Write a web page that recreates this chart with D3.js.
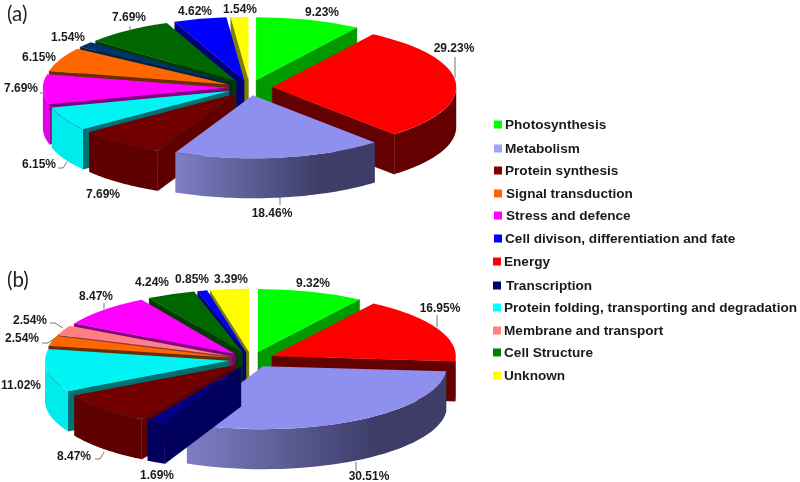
<!DOCTYPE html>
<html><head><meta charset="utf-8">
<script src="https://cdn.jsdelivr.net/npm/d3@7"></script>
<style>html,body{margin:0;padding:0;background:#fff}svg{display:block;filter:blur(0.4px)}</style>
</head><body><svg id="c" width="800" height="482"></svg>
<script>
// ---- data ----
const legendNames = ["Photosynthesis","Metabolism","Protein synthesis","Signal transduction","Stress and defence","Cell divison, differentiation and fate","Energy","Transcription","Protein folding, transporting and degradation","Membrane and transport","Cell Structure","Unknown"];
const categoriesA = ["Photosynthesis","Energy","Metabolism","Protein synthesis","Protein folding, transporting and degradation","Stress and defence","Signal transduction","Transcription","Cell Structure","Cell divison, differentiation and fate","Unknown"];
const valuesA = [9.23,29.23,18.46,7.69,6.15,7.69,6.15,1.54,7.69,4.62,1.54];
const categoriesB = ["Photosynthesis","Energy","Metabolism","Transcription","Protein synthesis","Protein folding, transporting and degradation","Signal transduction","Membrane and transport","Stress and defence","Cell Structure","Cell divison, differentiation and fate","Unknown"];
const valuesB = [9.32,16.95,30.51,1.69,8.47,11.02,2.54,2.54,8.47,4.24,0.85,3.39];

// ---- styling / layout ----
const topColor = {"Photosynthesis":"#00ff00","Metabolism":"#8f8ff0","Protein synthesis":"#720000","Signal transduction":"#ff6600","Stress and defence":"#ff00ff","Cell divison, differentiation and fate":"#0000ff","Energy":"#ff0000","Transcription":"#000080","Protein folding, transporting and degradation":"#00f4f4","Membrane and transport":"#ff8080","Cell Structure":"#006600","Unknown":"#ffff00"};
const wallColor = {"Photosynthesis":"#009900","Metabolism":"url(#lav)","Protein synthesis":"#5e0000","Signal transduction":"#b84a00","Stress and defence":"#e600e6","Cell divison, differentiation and fate":"#000080","Energy":"#640000","Transcription":"#00005c","Protein folding, transporting and degradation":"#00ecec","Membrane and transport":"#b05858","Cell Structure":"#004d00","Unknown":"#808000"};
const faceColor = {"Photosynthesis":"#009900","Metabolism":"#3d3d68","Protein synthesis":"#5e0000","Signal transduction":"#663000","Stress and defence":"#800080","Cell divison, differentiation and fate":"#000080","Energy":"#640000","Transcription":"#00005c","Protein folding, transporting and degradation":"#007070","Membrane and transport":"#804040","Cell Structure":"#003c00","Unknown":"#808000"};
const legendColor = Object.assign({}, topColor, {"Metabolism":"#a0a0ff","Protein synthesis":"#800000","Cell Structure":"#008000","Protein folding, transporting and degradation":"#00ffff"});
const legendRowY = [124,148,170,193,215,238,261,285,307,330,352,375];
const legendTextX = [505,505,505,506,506,505,504,506,504,504,504,504];
const legendSwatchX = [494,494,494,494,494,494,493,493,493,493,493,493];

const labelsA = [["9.23%",322,12],["29.23%",454,48],["18.46%",272,213],["7.69%",103,194],["6.15%",39,164],["7.69%",21,88],["6.15%",39,57],["1.54%",68,37],["7.69%",129,17],["4.62%",195,11],["1.54%",240,9]];
const labelsB = [["9.32%",313,283],["16.95%",440,308],["30.51%",369,476],["1.69%",157,475],["8.47%",74,456],["11.02%",21,385],["2.54%",22,338],["2.54%",30,320],["8.47%",96,296],["4.24%",152,282],["0.85%",192,279],["3.39%",231,279]];
const leadersA = [[[455,57],[455,78]],[[280,198],[280,205]],[[58,168],[63,168],[67,162]],[[40,93],[46,93]],[[130,26],[130,31]]];
const leadersB = [[[437,315],[437,327]],[[356,462],[356,471]],[[95,459],[100,459],[104,452]],[[42,343],[48,343],[55,338]],[[50,323],[55,323],[63,328]],[[104,303],[104,309]]];

const svg = d3.select("#c");
const grad = svg.append("defs").append("linearGradient").attr("id","lav");
[[0,"#7e7ec6"],[0.72,"#3d3d68"],[1,"#3d3d68"]].forEach(([o,c]) => grad.append("stop").attr("offset",o).attr("stop-color",c));

const rx = 184, ry = 63, depth = 40, explode = 22.7;
const sx = d3.scaleLinear().domain([-1,1]).range([-rx,rx]);
const sy = d3.scaleLinear().domain([-1,1]).range([-ry,ry]);
const line = d3.line();

function drawPie(cx, cy, cats, vals, overrides) {
  const slices = d3.pie().sort(null).value(d => d.v)(cats.map((c,i) => ({c, v: vals[i]})));
  const arc = d3.arc().innerRadius(0).outerRadius(rx);
  const g = svg.append("g");
  const order = slices.slice().sort((a,b) =>
    -Math.cos((a.startAngle+a.endAngle)/2) - -Math.cos((b.startAngle+b.endAngle)/2));
  order.forEach(s => {
    const mid = (s.startAngle+s.endAngle)/2;
    const ax = cx + Math.sin(mid)*explode, ay = cy - Math.cos(mid)*explode*ry/rx;
    const pt = (a,d=0) => [ax+sx(Math.sin(a)), ay-sy(Math.cos(a))+d];
    const o = overrides[s.data.c] || {};
    const fc = o.face || faceColor[s.data.c], wc = o.wall || wallColor[s.data.c], tc = o.top || topColor[s.data.c];
    const addFace = a => g.append("path")
      .attr("d", line([[ax,ay],pt(a),pt(a,depth),[ax,ay+depth]])+"Z")
      .attr("fill",fc).attr("stroke",fc).attr("stroke-width",0.4);
    if (Math.sin(s.startAngle) < 0) addFace(s.startAngle);
    if (Math.sin(s.endAngle) > 0) addFace(s.endAngle);
    const w0 = Math.max(s.startAngle, Math.PI/2), w1 = Math.min(s.endAngle, 3*Math.PI/2);
    if (w1 > w0) {
      const as = d3.range(0,41).map(i => w0+(w1-w0)*i/40);
      g.append("path")
        .attr("d", line(as.map(a=>pt(a)).concat(as.slice().reverse().map(a=>pt(a,depth))))+"Z")
        .attr("fill",wc);
    }
    g.append("path")
      .attr("transform",`translate(${ax},${ay}) scale(1,${ry/rx})`)
      .attr("d", arc(s))
      .attr("fill",tc);
  });
}

function drawLeaders(list) {
  svg.append("g").selectAll("path").data(list).join("path")
    .attr("d", d => line(d)).attr("fill","none").attr("stroke","#777").attr("stroke-width",1);
}
function drawLabels(list) {
  svg.append("g").selectAll("text").data(list).join("text")
    .attr("x", d=>d[1]).attr("y", d=>d[2]).attr("dy","0.36em")
    .attr("text-anchor","middle")
    .attr("font-family","'Liberation Sans',Arial,sans-serif").attr("font-weight","bold").attr("font-size",12)
    .attr("fill","#1a1a1a").text(d=>d[0]);
}

drawPie(249.6,87.6,categoriesA,valuesA,{"Transcription":{top:"#003366",wall:"#002244",face:"#002244"}});
drawPie(251.4,359.5,categoriesB,valuesB,{});
drawLeaders(leadersA); drawLeaders(leadersB);
drawLabels(labelsA); drawLabels(labelsB);

svg.append("text").attr("x",7).attr("y",21).attr("font-family","Lato,sans-serif").attr("font-size",20.5).attr("fill","#222").text("(a)");
svg.append("text").attr("x",7).attr("y",287).attr("font-family","Lato,sans-serif").attr("font-size",20.5).attr("fill","#222").text("(b)");

const lg = svg.append("g").selectAll("g").data(legendNames).join("g");
lg.append("rect").attr("x",(d,i)=>legendSwatchX[i]).attr("y",(d,i)=>legendRowY[i]-3.5).attr("width",8).attr("height",8)
  .attr("fill",d=>legendColor[d]);
lg.append("text").attr("x",(d,i)=>legendTextX[i]).attr("y",(d,i)=>legendRowY[i]).attr("dy","0.36em")
  .attr("font-family","'Liberation Sans',Arial,sans-serif").attr("font-weight","bold").attr("font-size",13.6)
  .attr("fill","#1a1a1a").text(d=>d);
</script></body></html>
